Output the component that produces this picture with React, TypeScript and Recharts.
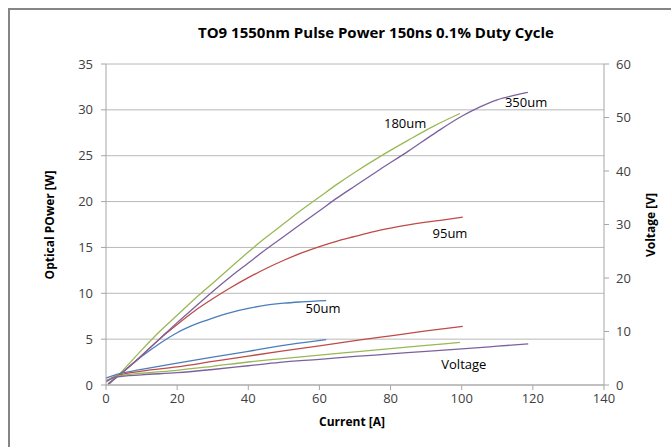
import React from 'react'
import {
  LineChart,
  Line,
  XAxis,
  YAxis,
  CartesianGrid,
  ReferenceDot,
} from 'recharts'

const currentTicks = [0, 20, 40, 60, 80, 100, 120, 140]
const powerTicks = [0, 5, 10, 15, 20, 25, 30, 35]
const voltageTicks = [0, 10, 20, 30, 40, 50, 60]

// optical power [W] vs current [A]
const i50 = [0.6, 5, 10, 15, 20, 25, 30, 35, 40, 45, 50, 55, 61.9]
const p50 = [0.1, 1.5, 3.1, 4.5, 5.7, 6.6, 7.3, 7.9, 8.35, 8.7, 8.92, 9.06, 9.2]

const i95 = [0.6, 5, 10, 15, 20, 25, 30, 35, 40, 45, 50, 55, 60, 65, 70, 75, 80, 85, 90, 95, 100.3]
const p95 = [0.1, 1.5, 3.2, 5.0, 6.6, 8.1, 9.4, 10.6, 11.7, 12.7, 13.6, 14.4, 15.1, 15.7, 16.2, 16.7, 17.1, 17.45, 17.75, 18.0, 18.3]

const i180 = [1, 5, 10, 15, 20, 25, 30, 35, 40, 45, 50, 55, 60, 65, 70, 77, 85, 92, 99.5]
const p180 = [0.1, 1.7, 3.8, 5.8, 7.6, 9.4, 11.1, 12.8, 14.5, 16.1, 17.6, 19.1, 20.5, 21.9, 23.2, 24.9, 26.7, 28.2, 29.6]

const i350 = [0.6, 5, 10, 15, 20, 25, 30, 35, 40, 45, 50, 55, 60, 65, 70, 77, 85, 93, 100, 105, 110, 115, 118.6]
const p350 = [0.1, 1.5, 3.2, 5.0, 6.8, 8.5, 10.2, 11.8, 13.3, 14.8, 16.2, 17.6, 19.0, 20.4, 21.7, 23.5, 25.5, 27.6, 29.3, 30.3, 31.1, 31.6, 31.9]

// voltage [V] vs current [A]
const iv50 = [0, 3, 10, 20, 30, 40, 51.8, 61.9]
const v50 = [1.3, 2.0, 2.9, 4.1, 5.2, 6.3, 7.6, 8.5]

const iv95 = [0, 3, 10, 20, 30, 40, 48.9, 60, 70, 80, 90, 100.3]
const v95 = [0.8, 1.7, 2.6, 3.4, 4.4, 5.4, 6.28, 7.3, 8.3, 9.2, 10.1, 10.95]

const iv180 = [0, 3, 10, 20, 30, 40, 48.9, 60, 70, 80, 90, 99.5]
const v180 = [0.7, 1.6, 2.2, 2.75, 3.5, 4.3, 4.9, 5.6, 6.2, 6.8, 7.4, 7.96]

const iv350 = [0, 3, 10, 20, 30, 40, 48.9, 60, 70, 80, 90, 100, 110, 118.7]
const v350 = [0.6, 1.5, 1.9, 2.3, 2.9, 3.6, 4.23, 4.8, 5.35, 5.8, 6.3, 6.75, 7.25, 7.7]

const zip = (xs: number[], ys: number[]) => xs.map((x, i) => ({ x, y: ys[i] }))

const BLUE = '#4a7ebb'
const RED = '#be4b48'
const GREEN = '#98b954'
const PURPLE = '#7d60a0'

const font = "'Open Sans', sans-serif"
const tickStyle = { fill: '#404040', fontSize: 13, fontFamily: font }
const axisColor = '#a6a6a6'

const labels = [
  { text: '50um', x: 61, y: 8.3 },
  { text: '95um', x: 96.7, y: 16.55 },
  { text: '180um', x: 84.1, y: 28.5 },
  { text: '350um', x: 118.1, y: 30.8 },
  { text: 'Voltage', x: 100.6, y: 2.3 },
]

function App() {
  return (
    <div style={{ position: 'absolute', left: 0, top: 0, width: 671, height: 447, background: '#fff', overflow: 'hidden' }}>
      <div style={{ position: 'absolute', left: 8, top: 8, width: 700, height: 500, borderTop: '2px solid #858585', borderLeft: '2px solid #858585' }} />
      <div style={{ position: 'absolute', left: 0, width: 752, top: 22, textAlign: 'center', fontFamily: font, fontWeight: 700, fontSize: 15, color: '#000' }}>
        TO9 1550nm Pulse Power 150ns 0.1% Duty Cycle
      </div>
      <LineChart
        width={671}
        height={447}
        margin={{ top: 64, right: 27, left: 66, bottom: 32 }}
        style={{ position: 'absolute', left: 0, top: 0 }}
      >
        <CartesianGrid yAxisId="left" vertical={false} stroke="#b8b8b8" />
        <XAxis
          type="number"
          dataKey="x"
          domain={[0, 140]}
          ticks={currentTicks}
          allowDataOverflow
          height={30}
          tick={tickStyle}
          tickSize={5}
          tickMargin={4}
          axisLine={{ stroke: axisColor }}
          tickLine={{ stroke: axisColor }}
        />
        <YAxis
          yAxisId="left"
          type="number"
          domain={[0, 35]}
          ticks={powerTicks}
          width={40}
          tick={tickStyle}
          tickSize={5}
          tickMargin={8}
          axisLine={{ stroke: axisColor }}
          tickLine={{ stroke: axisColor }}
        />
        <YAxis
          yAxisId="right"
          orientation="right"
          type="number"
          domain={[0, 60]}
          ticks={voltageTicks}
          width={40}
          tick={{ ...tickStyle, textAnchor: 'start' }}
          tickSize={5}
          tickMargin={7}
          axisLine={{ stroke: axisColor }}
          tickLine={{ stroke: axisColor }}
        />
        <Line yAxisId="left" data={zip(i50, p50)} dataKey="y" type="monotone" stroke={BLUE} strokeWidth={1.3} dot={false} isAnimationActive={false} />
        <Line yAxisId="left" data={zip(i95, p95)} dataKey="y" type="monotone" stroke={RED} strokeWidth={1.3} dot={false} isAnimationActive={false} />
        <Line yAxisId="left" data={zip(i180, p180)} dataKey="y" type="monotone" stroke={GREEN} strokeWidth={1.3} dot={false} isAnimationActive={false} />
        <Line yAxisId="left" data={zip(i350, p350)} dataKey="y" type="monotone" stroke={PURPLE} strokeWidth={1.3} dot={false} isAnimationActive={false} />
        <Line yAxisId="right" data={zip(iv50, v50)} dataKey="y" type="monotone" stroke={BLUE} strokeWidth={1.3} dot={false} isAnimationActive={false} />
        <Line yAxisId="right" data={zip(iv95, v95)} dataKey="y" type="monotone" stroke={RED} strokeWidth={1.3} dot={false} isAnimationActive={false} />
        <Line yAxisId="right" data={zip(iv180, v180)} dataKey="y" type="monotone" stroke={GREEN} strokeWidth={1.3} dot={false} isAnimationActive={false} />
        <Line yAxisId="right" data={zip(iv350, v350)} dataKey="y" type="monotone" stroke={PURPLE} strokeWidth={1.3} dot={false} isAnimationActive={false} />
        {labels.map((l) => (
          <ReferenceDot
            key={l.text}
            yAxisId="left"
            x={l.x}
            y={l.y}
            r={0}
            fill="none"
            stroke="none"
            ifOverflow="visible"
            label={{ value: l.text, position: 'center', fill: '#000', fontSize: 13, fontFamily: font }}
          />
        ))}
      </LineChart>
      <div style={{ position: 'absolute', left: 49, top: 225, transform: 'translate(-50%, -50%) rotate(-90deg)', whiteSpace: 'nowrap', fontFamily: font, fontWeight: 700, fontSize: 12, color: '#000' }}>
        Optical POwer [W]
      </div>
      <div style={{ position: 'absolute', left: 650, top: 225, transform: 'translate(-50%, -50%) rotate(-90deg)', whiteSpace: 'nowrap', fontFamily: font, fontWeight: 700, fontSize: 12, color: '#000' }}>
        Voltage [V]
      </div>
      <div style={{ position: 'absolute', left: 352, top: 421, transform: 'translate(-50%, -50%)', whiteSpace: 'nowrap', fontFamily: font, fontWeight: 700, fontSize: 12, color: '#000' }}>
        Current [A]
      </div>
    </div>
  )
}

export default App
